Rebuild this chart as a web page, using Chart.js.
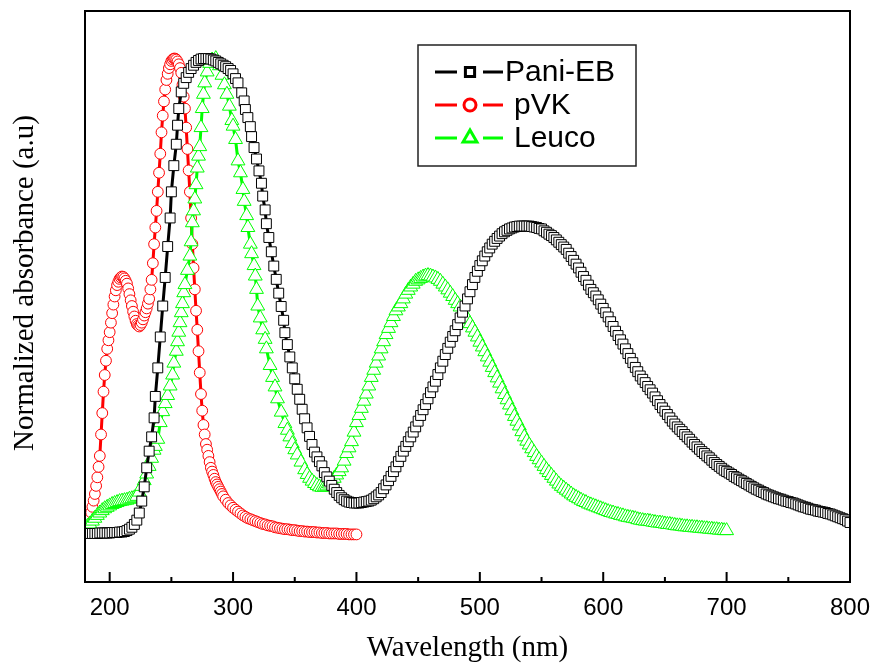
<!DOCTYPE html>
<html><head><meta charset="utf-8">
<script src="https://cdn.jsdelivr.net/npm/chart.js@4.4.1/dist/chart.umd.min.js"></script>
<style>html,body{margin:0;padding:0;background:#fff;}#wrap{width:877px;height:664px;}</style>
</head><body><div id="wrap"><canvas id="c" width="877" height="664"></canvas></div>
<script>
const xTickLabels = [200, 300, 400, 500, 600, 700, 800];
const xMinorTicks = [250, 350, 450, 550, 650, 750];
const seriesNames = ['Pani-EB', 'pVK', 'Leuco'];
const xTitle = 'Wavelength (nm)';
const yTitle = 'Normalized absorbance (a.u)';

// [wavelength (nm), normalized absorbance]
const paniEB = [[180,.002],[182,.002],[184,.002],[186,.002],[188,.002],[190,.002],[192,.003],[194,.003],[196,.003],[198,.003],[200,.003],[202,.004],[204,.004],[206,.004],[208,.005],[210,.005],[212,.006],[214,.008],[216,.011],[218,.015],[220,.021],[222,.03],[224,.045],[226,.07],[228,.10],[230,.14],[232,.175],[234,.205],[236,.245],[237,.29],[239,.35],[241,.415],[243,.48],[245,.54],[247,.605],[249,.665],[250,.72],[252,.775],[254,.82],[255,.86],[256,.895],[258,.93],[260,.948],[262,.96],[264,.971],[266,.979],[268,.986],[270,.992],[272,.996],[274,.999],[276,1],[278,1],[280,1],[282,.999],[284,.997],[286,.995],[288,.992],[290,.989],[292,.986],[294,.983],[296,.979],[298,.975],[300,.968],[302,.958],[304,.949],[307,.928],[309,.911],[310,.893],[312,.876],[314,.857],[315,.836],[317,.813],[319,.789],[321,.764],[323,.738],[324,.711],[326,.682],[327,.653],[329,.624],[331,.594],[333,.564],[335,.536],[337,.507],[339,.479],[341,.45],[342,.424],[344,.399],[346,.373],[348,.35],[350,.327],[352,.305],[354,.284],[356,.263],[358,.243],[360,.224],[362,.206],[364,.189],[366,.173],[368,.163],[370,.153],[372,.144],[374,.13],[376,.121],[378,.112],[380,.103],[382,.095],[384,.088],[386,.082],[388,.077],[390,.073],[392,.070],[394,.068],[396,.067],[398,.066],[400,.066],[402,.066],[404,.067],[406,.068],[408,.069],[410,.070],[412,.072],[414,.075],[416,.079],[418,.083],[420,.088],[422,.096],[424,.104],[426,.113],[428,.122],[430,.132],[432,.142],[434,.153],[436,.164],[438,.175],[440,.185],[442,.195],[444,.205],[446,.215],[448,.226],[450,.238],[452,.25],[454,.262],[456,.273],[458,.285],[460,.298],[462,.31],[464,.322],[466,.336],[468,.35],[470,.364],[472,.378],[474,.391],[476,.404],[478,.416],[480,.428],[482,.441],[484,.455],[486,.467],[488,.48],[490,.495],[492,.51],[494,.525],[496,.54],[498,.553],[500,.565],[502,.575],[504,.585],[506,.594],[508,.602],[510,.61],[512,.616],[514,.622],[516,.627],[518,.632],[520,.636],[522,.639],[524,.642],[526,.644],[528,.646],[530,.647],[532,.648],[534,.648],[536,.648],[538,.648],[540,.648],[542,.647],[544,.646],[546,.645],[548,.643],[550,.642],[552,.638],[554,.635],[556,.631],[558,.628],[560,.624],[562,.619],[564,.614],[566,.609],[568,.604],[570,.599],[572,.591],[574,.584],[576,.576],[578,.568],[580,.56],[582,.551],[584,.542],[586,.534],[588,.524],[590,.515],[592,.508],[594,.501],[596,.493],[598,.484],[600,.475],[602,.466],[604,.457],[606,.447],[608,.437],[610,.427],[612,.418],[614,.409],[616,.4],[618,.39],[620,.38],[622,.37],[624,.361],[626,.351],[628,.342],[630,.333],[632,.326],[634,.319],[636,.311],[638,.304],[640,.297],[642,.289],[644,.281],[646,.273],[648,.266],[650,.259],[652,.252],[654,.245],[656,.238],[658,.232],[660,.226],[662,.221],[664,.216],[666,.21],[668,.205],[670,.2],[672,.194],[674,.189],[676,.184],[678,.179],[680,.174],[682,.17],[684,.165],[686,.161],[688,.156],[690,.151],[692,.147],[694,.143],[696,.139],[698,.135],[700,.132],[702,.129],[704,.126],[706,.122],[708,.119],[710,.116],[712,.113],[714,.11],[716,.107],[718,.104],[720,.101],[722,.098],[724,.095],[726,.093],[728,.09],[730,.088],[732,.085],[734,.083],[736,.081],[738,.079],[740,.077],[742,.075],[744,.074],[746,.072],[748,.07],[750,.069],[752,.067],[754,.066],[756,.064],[758,.062],[760,.06],[762,.058],[764,.057],[766,.055],[768,.053],[770,.052],[772,.051],[774,.049],[776,.048],[778,.047],[780,.046],[782,.044],[784,.043],[786,.041],[788,.039],[790,.037],[792,.035],[794,.033],[796,.031],[798,.028],[800,.025]];

const pVK = [[182,.02],[183,.027],[184,.035],[185,.046],[186,.058],[187,.071],[188,.085],[189,.102],[190,.12],[191,.142],[192,.165],[193,.21],[194,.255],[195,.30],[196,.335],[197,.365],[198,.39],[199,.408],[200,.425],[201,.445],[202,.465],[203,.483],[204,.50],[205,.513],[206,.524],[207,.531],[208,.537],[209,.54],[210,.542],[211,.541],[212,.538],[213,.533],[214,.527],[215,.517],[216,.505],[217,.492],[218,.48],[219,.468],[220,.458],[221,.449],[222,.442],[223,.439],[224,.437],[225,.44],[226,.445],[227,.452],[228,.46],[229,.467],[230,.475],[231,.485],[232,.495],[233,.515],[234,.535],[235,.57],[236,.61],[237,.645],[238,.68],[239,.72],[240,.76],[241,.80],[242,.845],[243,.88],[244,.91],[245,.935],[246,.955],[247,.968],[248,.98],[249,.988],[250,.995],[251,.998],[252,1],[253,1],[254,.998],[255,.994],[256,.988],[257,.98],[258,.97],[259,.945],[260,.92],[261,.895],[262,.855],[263,.81],[264,.765],[265,.72],[266,.665],[267,.61],[268,.56],[269,.515],[270,.47],[271,.43],[272,.385],[273,.34],[274,.295],[275,.26],[276,.23],[277,.21],[278,.19],[279,.178],[280,.165],[281,.152],[282,.14],[283,.132],[284,.125],[285,.117],[286,.11],[287,.105],[288,.10],[289,.095],[290,.09],[291,.085],[292,.08],[294,.073],[296,.066],[298,.061],[300,.056],[302,.052],[304,.048],[306,.044],[308,.04],[310,.037],[312,.034],[314,.032],[316,.03],[318,.028],[320,.026],[322,.024],[324,.022],[326,.021],[328,.019],[330,.018],[332,.017],[334,.015],[336,.014],[338,.013],[340,.012],[342,.011],[344,.011],[346,.01],[348,.009],[350,.009],[352,.008],[354,.007],[356,.007],[358,.006],[360,.006],[362,.005],[364,.005],[366,.005],[368,.004],[370,.004],[372,.003],[374,.003],[376,.003],[378,.002],[380,.002],[382,.002],[384,.002],[386,.001],[388,.001],[390,.001],[392,.001],[394,0],[396,0],[398,0],[400,0]];

const leuco = [[180,.012],[182,.017],[184,.022],[186,.028],[188,.034],[190,.04],[192,.045],[194,.05],[196,.054],[198,.057],[200,.06],[202,.063],[204,.065],[206,.067],[208,.069],[210,.07],[212,.071],[214,.072],[216,.074],[218,.075],[220,.077],[222,.08],[224,.089],[226,.101],[228,.113],[230,.127],[232,.143],[234,.16],[236,.177],[237,.185],[239,.20],[241,.235],[243,.258],[245,.275],[247,.292],[249,.312],[251,.335],[252,.36],[254,.385],[255,.405],[256,.425],[257,.445],[258,.466],[259,.485],[260,.508],[261,.525],[263,.555],[265,.585],[266,.615],[267,.655],[268,.68],[269,.705],[270,.735],[271,.77],[272,.795],[273,.815],[274,.855],[275,.895],[276,.925],[277,.949],[279,.972],[281,.99],[283,.997],[286,1],[289,.985],[291,.965],[293,.945],[295,.925],[297,.90],[299,.87],[300,.858],[302,.83],[304,.785],[306,.76],[308,.725],[309,.70],[311,.67],[312,.645],[314,.61],[315,.59],[317,.565],[318,.543],[319,.515],[320,.48],[322,.455],[324,.43],[326,.41],[327,.39],[330,.355],[332,.33],[334,.31],[336,.285],[339,.257],[342,.233],[344,.219],[346,.205],[348,.191],[350,.178],[352,.167],[355,.152],[358,.136],[360,.126],[362,.118],[364,.112],[366,.107],[368,.103],[370,.10],[372,.099],[374,.10],[376,.102],[378,.106],[380,.112],[382,.118],[384,.125],[386,.132],[388,.14],[390,.154],[392,.17],[394,.182],[396,.195],[398,.215],[400,.235],[402,.25],[404,.265],[406,.28],[408,.295],[410,.312],[412,.33],[414,.345],[416,.36],[418,.375],[420,.39],[422,.405],[424,.42],[426,.433],[428,.445],[430,.458],[432,.47],[434,.478],[436,.485],[438,.495],[440,.505],[442,.513],[444,.52],[446,.526],[448,.532],[450,.535],[452,.538],[454,.541],[456,.543],[458,.544],[460,.543],[462,.541],[464,.539],[466,.536],[468,.532],[470,.526],[472,.52],[474,.514],[476,.507],[478,.50],[480,.492],[482,.485],[484,.478],[486,.469],[488,.46],[490,.452],[492,.443],[494,.434],[496,.425],[498,.415],[500,.404],[502,.394],[504,.384],[506,.373],[508,.362],[510,.351],[512,.34],[514,.329],[516,.318],[518,.306],[520,.294],[522,.283],[524,.272],[526,.26],[528,.248],[530,.238],[532,.228],[534,.216],[536,.205],[538,.196],[540,.188],[542,.18],[544,.172],[546,.164],[548,.157],[550,.15],[552,.143],[554,.136],[556,.13],[558,.124],[560,.118],[562,.112],[564,.106],[566,.101],[568,.097],[570,.093],[572,.089],[574,.085],[576,.081],[578,.078],[580,.075],[582,.072],[584,.069],[586,.067],[588,.064],[590,.062],[592,.06],[594,.058],[596,.056],[598,.054],[600,.052],[602,.05],[604,.048],[606,.046],[608,.045],[610,.043],[612,.042],[614,.04],[616,.039],[618,.037],[620,.036],[622,.035],[624,.034],[626,.033],[628,.031],[630,.03],[632,.029],[634,.028],[636,.028],[638,.027],[640,.026],[642,.025],[644,.024],[646,.024],[648,.023],[650,.022],[652,.021],[654,.021],[656,.02],[658,.019],[660,.018],[662,.018],[664,.017],[666,.016],[668,.016],[670,.015],[672,.015],[674,.014],[676,.014],[678,.013],[680,.013],[682,.012],[684,.012],[686,.011],[688,.011],[690,.01],[692,.01],[694,.009],[696,.009],[698,.008],[700,.008]];

const pts = arr => arr.map(p => ({x: p[0], y: p[1]}));

const frameAndLegend = {
  id: 'frameAndLegend',
  afterDraw(chart) {
    const {ctx, chartArea: a, scales: {x}} = chart;
    ctx.save();
    ctx.strokeStyle = '#000'; ctx.lineWidth = 2;
    ctx.strokeRect(a.left, a.top, a.right - a.left, a.bottom - a.top);
    ctx.beginPath();
    xTickLabels.forEach(v => { const p = x.getPixelForValue(v); ctx.moveTo(p, a.bottom); ctx.lineTo(p, a.bottom - 10); });
    xMinorTicks.forEach(v => { const p = x.getPixelForValue(v); ctx.moveTo(p, a.bottom); ctx.lineTo(p, a.bottom - 5); });
    ctx.stroke();
    ctx.save();
    ctx.translate(25, 283);
    ctx.rotate(-Math.PI / 2);
    ctx.fillStyle = '#000';
    ctx.font = '29px "Liberation Serif", "Times New Roman", serif';
    ctx.textAlign = 'center'; ctx.textBaseline = 'middle';
    ctx.fillText(yTitle, 0, 0);
    ctx.restore();
    ctx.lineWidth = 1.5; ctx.strokeStyle = '#222';
    ctx.strokeRect(418, 45, 218, 121);
    const rows = [72, 105, 138];
    const textX = [505, 514, 514];
    chart.data.datasets.forEach((ds, i) => {
      const y = rows[i];
      ctx.strokeStyle = ds.borderColor; ctx.lineWidth = 3;
      ctx.beginPath();
      ctx.moveTo(435, y); ctx.lineTo(457, y);
      ctx.moveTo(483, y); ctx.lineTo(503, y);
      ctx.stroke();
      ctx.fillStyle = '#fff'; ctx.strokeStyle = ds.borderColor;
      const r = ds.pointStyle === 'rect' ? 6.5 : (ds.pointStyle === 'circle' ? 6 : 8);
      Chart.helpers.drawPoint(ctx, {pointStyle: ds.pointStyle, radius: r, rotation: 0, borderWidth: 1.2}, 470, y);
      ctx.fillStyle = '#000';
      ctx.font = '30px "Liberation Sans", Arial, sans-serif';
      ctx.textAlign = 'left'; ctx.textBaseline = 'middle';
      ctx.fillText(ds.label, textX[i], y + 1);
    });
    ctx.restore();
  }
};

new Chart(document.getElementById('c'), {
  type: 'line',
  data: {
    datasets: [
      {label: seriesNames[0], data: pts(paniEB), borderColor: '#000000', borderWidth: 3,
       pointStyle: 'rect', pointRadius: 7, pointBackgroundColor: '#ffffff', pointBorderColor: '#000000', pointBorderWidth: 1, order: 0},
      {label: seriesNames[1], data: pts(pVK), borderColor: '#ff0000', borderWidth: 3,
       pointStyle: 'circle', pointRadius: 5.4, pointBackgroundColor: '#ffffff', pointBorderColor: '#ff0000', pointBorderWidth: 1, order: 2},
      {label: seriesNames[2], data: pts(leuco), borderColor: '#00ff00', borderWidth: 3,
       pointStyle: 'triangle', pointRadius: 8, pointBackgroundColor: '#ffffff', pointBorderColor: '#00ff00', pointBorderWidth: 1, order: 1}
    ]
  },
  options: {
    responsive: false, animation: false, devicePixelRatio: 1,
    layout: {padding: {left: 85, right: 27, top: 11, bottom: 0}},
    plugins: {legend: {display: false}, tooltip: {enabled: false}},
    elements: {line: {tension: 0}},
    scales: {
      x: {
        type: 'linear', min: 180, max: 800,
        afterBuildTicks: s => { s.ticks = xTickLabels.map(v => ({value: v})); },
        afterFit: s => { s.height = 82; },
        grid: {display: false}, border: {display: false},
        ticks: {font: {family: '"Liberation Sans", Arial, sans-serif', size: 24}, color: '#000', padding: 4, maxRotation: 0, autoSkip: false},
        title: {display: true, text: xTitle, color: '#000', font: {family: '"Liberation Serif", "Times New Roman", serif', size: 29, lineHeight: 1.1}, padding: {top: 0, bottom: 0}}
      },
      y: {display: false, min: -0.1, max: 1.1}
    }
  },
  plugins: [frameAndLegend]
});
</script></body></html>
